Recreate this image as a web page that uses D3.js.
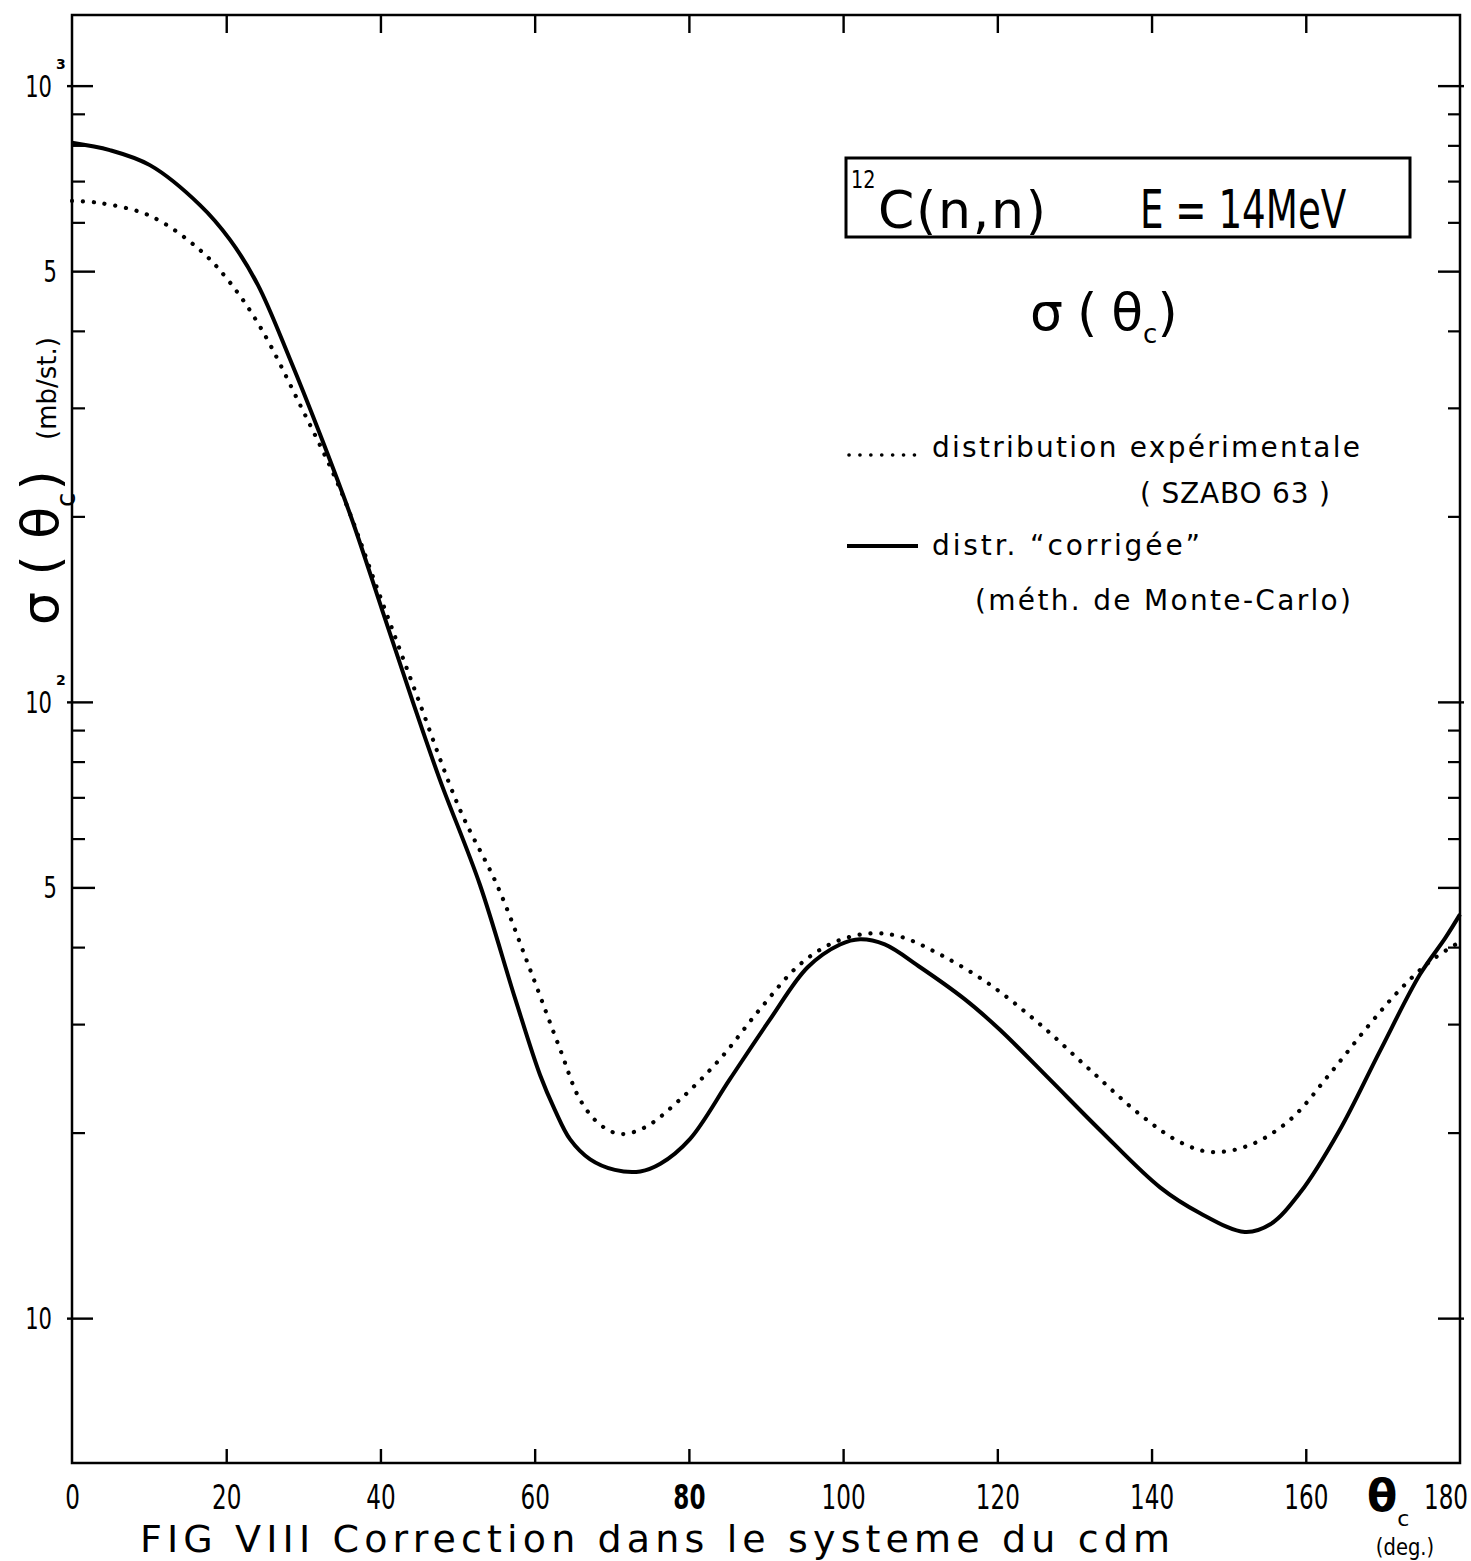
<!DOCTYPE html>
<html>
<head>
<meta charset="utf-8">
<script src="https://cdn.jsdelivr.net/npm/d3@7"></script>
<style>
  body { margin: 0; background: #fff; }
  svg { display: block; }
  text { font-family: "DejaVu Sans", "Liberation Sans", sans-serif; fill: #000; }
</style>
</head>
<body>
<svg id="chart" width="1471" height="1561"></svg>
<script>
// Scattering angle in the centre-of-mass system (degrees)
const angleTicks = [0, 20, 40, 60, 80, 100, 120, 140, 160, 180];

// sigma(theta_c), mb/sr — "corrected" distribution (Monte-Carlo method)
const correctedAngles = [0, 4.9, 10.1, 16.6, 20.5, 24.1, 28.3, 32.2, 36.1, 40.3, 44.2, 47.7, 52.9, 57.5, 60.7,
  62.6, 64.6, 67.2, 70.4, 73.7, 76.3, 80.1, 85.3, 90.5, 95.4, 99.6, 102.2, 105.4, 110, 115.8, 120.3,
  126.8, 133.3, 141.1, 146.3, 152.1, 155.4, 159.3, 164.4, 169.6, 174.8, 178.1, 180];
const correctedValues = [808, 786, 743, 640, 562, 475, 359, 271, 201, 140, 100, 74.8, 50.5, 32.9, 24.8,
  21.8, 19.5, 18.1, 17.4, 17.3, 17.8, 19.5, 24.4, 30.5, 37.1, 40.4, 41.2, 40.4, 37.1, 32.9, 29.4,
  24.4, 20.2, 16.3, 14.8, 13.8, 14.2, 16.0, 20.2, 27.1, 36.1, 41.4, 45.2];

// sigma(theta_c), mb/sr — experimental distribution (Szabo 63)
const experimentalAngles = [0, 3.6, 10.1, 16.6, 20.5, 24.4, 29.6, 34.8, 39.9, 44.9, 50.3, 55.1, 59.4, 63.3,
  65.9, 68.5, 71.1, 74.3, 78.8, 84, 89.2, 94.4, 99, 103.5, 107.4, 112.6, 119, 125.5, 132, 138.5,
  143.7, 147.8, 152.8, 158, 163.1, 168.3, 172.2, 176.1, 180];
const experimentalValues = [650, 645, 615, 541, 479, 406, 303, 221, 149, 101, 66.9, 50.5, 36.8, 27.3,
  22.6, 20.6, 19.9, 20.4, 22.6, 26.3, 31.7, 37.5, 40.8, 42.1, 41.6, 38.9, 34.8, 30.0, 25.3, 21.4,
  19.3, 18.6, 19.1, 21.0, 24.9, 30.0, 34.1, 37.9, 40.8];

// Log axis ticks
const decadeTicks = [10, 100, 1000];
const halfTicks = [50, 500];
const minorTicks = [20, 30, 40, 60, 70, 80, 90, 200, 300, 400, 600, 700, 800, 900];
const yLabels = [
  { v: 1000, base: "10", exp: "3" },
  { v: 500, base: "5", exp: "" },
  { v: 100, base: "10", exp: "2" },
  { v: 50, base: "5", exp: "" },
  { v: 10, base: "10", exp: "" }
];

const svg = d3.select("#chart");
const plotLeft = 72, plotRight = 1460, plotTop = 15, plotBottom = 1463;
const narrow = 0.68; // horizontal squeeze for the stencil-like digits

const x = d3.scaleLinear().domain([0, 180]).range([plotLeft, plotRight]);
const y = d3.scaleLog().domain([5.82, 1302]).range([plotBottom, plotTop]);

const axisColor = "#000";
function styleAxis(g, width) {
  g.select(".domain").remove();
  g.selectAll(".tick line").attr("stroke", axisColor).attr("stroke-width", width);
}

// Frame
svg.append("rect")
  .attr("x", plotLeft).attr("y", plotTop)
  .attr("width", plotRight - plotLeft).attr("height", plotBottom - plotTop)
  .attr("fill", "none").attr("stroke", axisColor).attr("stroke-width", 2.5);

// Left axis ticks (pointing inward)
svg.append("g").attr("transform", `translate(${plotLeft},0)`)
  .call(d3.axisRight(y).tickValues(minorTicks).tickSize(13).tickFormat(""))
  .call(g => styleAxis(g, 2.2));
svg.append("g").attr("transform", `translate(${plotLeft},0)`)
  .call(d3.axisRight(y).tickValues(halfTicks).tickSize(23).tickFormat(""))
  .call(g => styleAxis(g, 2.4));
svg.append("g").attr("transform", `translate(${plotLeft - 5},0)`)
  .call(d3.axisRight(y).tickValues(decadeTicks).tickSize(26).tickFormat(""))
  .call(g => styleAxis(g, 2.4));

// Right axis ticks
svg.append("g").attr("transform", `translate(${plotRight},0)`)
  .call(d3.axisLeft(y).tickValues(minorTicks).tickSize(12).tickFormat(""))
  .call(g => styleAxis(g, 2.2));
svg.append("g").attr("transform", `translate(${plotRight},0)`)
  .call(d3.axisLeft(y).tickValues(halfTicks).tickSize(22).tickFormat(""))
  .call(g => styleAxis(g, 2.4));
svg.append("g").attr("transform", `translate(${plotRight + 4},0)`)
  .call(d3.axisLeft(y).tickValues(decadeTicks).tickSize(26).tickFormat(""))
  .call(g => styleAxis(g, 2.4));

// Top and bottom ticks
const innerAngles = angleTicks.filter(d => d > 0 && d < 180);
svg.append("g").attr("transform", `translate(0,${plotTop})`)
  .call(d3.axisBottom(x).tickValues(innerAngles).tickSize(18).tickFormat(""))
  .call(g => styleAxis(g, 2.4));
svg.append("g").attr("transform", `translate(0,${plotBottom})`)
  .call(d3.axisTop(x).tickValues(innerAngles).tickSize(14).tickFormat(""))
  .call(g => styleAxis(g, 2.4));

// Angle labels (narrow lettering)
const xl = svg.append("g").attr("transform", `translate(0,${plotBottom})`)
  .call(d3.axisBottom(x).tickValues(angleTicks).tickSize(0).tickPadding(22).tickFormat(d3.format("d")));
xl.select(".domain").remove();
xl.selectAll(".tick").filter(d => d === 180).attr("transform", `translate(${plotRight - 14},0)`);
xl.selectAll(".tick text")
  .attr("font-size", 34)
  .attr("font-family", "DejaVu Sans")
  .attr("font-weight", d => d === 80 ? "bold" : "normal")
  .attr("transform", `scale(${narrow},1)`);

// Axis title for angle
const th = svg.append("text").attr("x", 1367).attr("y", 1511).attr("font-size", 44).attr("font-weight", "bold");
th.append("tspan").text("θ");
th.append("tspan").attr("dx", 0).attr("dy", 15).attr("font-size", 22).attr("font-weight", "normal").text("c");
svg.append("text")
  .attr("transform", `translate(1405,1555) scale(0.85,1)`)
  .attr("font-size", 23).attr("text-anchor", "middle").text("(deg.)");

// Log axis labels
const yl = svg.append("g");
yLabels.forEach(d => {
  yl.append("text")
    .attr("transform", `translate(${d.base === "5" ? 57 : 52},${y(d.v) + 11}) scale(${narrow},1)`)
    .attr("font-size", 31).attr("text-anchor", "end")
    .text(d.base);
  if (d.exp) {
    yl.append("text").attr("x", 56).attr("y", y(d.v) - 17)
      .attr("font-size", 14).attr("font-weight", "bold").text(d.exp);
  }
});

// Vertical axis title
const yt = svg.append("g").attr("transform", "translate(58,625) rotate(-90)");
const ytt = yt.append("text").attr("x", 0).attr("y", 0).attr("font-size", 52);
ytt.append("tspan").text("σ ( θ");
ytt.append("tspan").attr("dy", 17).attr("font-size", 26).text("c");
ytt.append("tspan").attr("dy", -17).attr("dx", 2).text(")");
svg.append("g").attr("transform", "translate(56,440) rotate(-90)")
  .append("text").attr("x", 0).attr("y", 0).attr("font-size", 26).text("(mb/st.)");

// Curves
const line = d3.line()
  .x(d => x(d[0]))
  .y(d => y(d[1]))
  .curve(d3.curveCatmullRom.alpha(0.5));

const experimental = experimentalAngles.map((a, i) => [a, experimentalValues[i]]);
const corrected = correctedAngles.map((a, i) => [a, correctedValues[i]]);

svg.append("path").datum(experimental)
  .attr("d", line).attr("fill", "none").attr("stroke", "#000")
  .attr("stroke-width", 4.2).attr("stroke-linecap", "round")
  .attr("stroke-dasharray", "0.1 10.8");

svg.append("path").datum(corrected)
  .attr("d", line).attr("fill", "none").attr("stroke", "#000")
  .attr("stroke-width", 4).attr("stroke-linejoin", "round");

// Title box
svg.append("rect").attr("x", 846).attr("y", 158).attr("width", 564).attr("height", 79)
  .attr("fill", "none").attr("stroke", "#000").attr("stroke-width", 3);
svg.append("text").attr("transform", "translate(851,188) scale(0.8,1)").attr("font-size", 24).text("12");
svg.append("text").attr("x", 878).attr("y", 228).attr("font-size", 52)
  .attr("textLength", 168).attr("lengthAdjust", "spacing").text("C(n,n)");
svg.append("text").attr("transform", "translate(1140,228) scale(0.69,1)").attr("font-size", 54)
  .text("E = 14MeV");

// Subtitle sigma(theta_c)
const st = svg.append("text").attr("x", 1030).attr("y", 330).attr("font-size", 52);
st.append("tspan").text("σ");
st.append("tspan").attr("dx", 14).text("(");
st.append("tspan").attr("dx", 14).text("θ");
st.append("tspan").attr("dy", 13).attr("font-size", 26).text("c");
st.append("tspan").attr("dy", -13).attr("dx", 0).text(")");

// Legend
const lg = svg.append("g");
lg.append("line").attr("x1", 849).attr("x2", 925).attr("y1", 455).attr("y2", 455)
  .attr("stroke", "#000").attr("stroke-width", 3.6).attr("stroke-linecap", "round")
  .attr("stroke-dasharray", "0.1 10.8");
lg.append("text").attr("x", 932).attr("y", 457).attr("font-size", 28)
  .attr("textLength", 428).attr("lengthAdjust", "spacing").text("distribution  expérimentale");
lg.append("text").attr("x", 1140).attr("y", 503).attr("font-size", 28)
  .attr("textLength", 190).attr("lengthAdjust", "spacing").text("( SZABO  63 )");
lg.append("line").attr("x1", 847).attr("x2", 918).attr("y1", 546).attr("y2", 546)
  .attr("stroke", "#000").attr("stroke-width", 4);
lg.append("text").attr("x", 932).attr("y", 555).attr("font-size", 28)
  .attr("textLength", 268).attr("lengthAdjust", "spacing").text("distr.  “corrigée”");
lg.append("text").attr("x", 975).attr("y", 610).attr("font-size", 28)
  .attr("textLength", 376).attr("lengthAdjust", "spacing").text("(méth. de Monte-Carlo)");

// Figure caption
svg.append("text").attr("x", 140).attr("y", 1552).attr("font-size", 38)
  .attr("textLength", 1030).attr("lengthAdjust", "spacing")
  .text("FIG VIII Correction dans le systeme du cdm");
</script>
</body>
</html>
